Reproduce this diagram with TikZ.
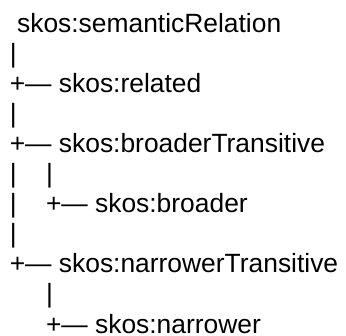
\documentclass[tikz,border=0pt]{standalone}
\usepackage{fontspec}
\setmainfont{Liberation Sans}
\begin{document}
\begin{tikzpicture}[x=1bp,y=1bp,
  t/.style={anchor=base west, inner sep=0pt, outer sep=0pt, text=black,
            font=\fontsize{26.4bp}{30bp}\selectfont}]
\useasboundingbox (0,0) rectangle (346,336);
% line 1
\node[t] (root) at (17.1,304) {skos:semanticRelation};
% line 2
\node[t] (v2) at (9.8,273.9) {|};
% line 3
\node[t] (related) at (9.8,243.8) {+— skos:related};
% line 4
\node[t] (v4) at (9.8,213.7) {|};
% line 5
\node[t] (broaderT) at (9.8,183.6) {+— skos:broaderTransitive};
% line 6
\node[t] (v6a) at (9.8,153.5) {|};
\node[t] (v6b) at (46,153.5) {|};
% line 7
\node[t] (v7) at (9.8,123.4) {|};
\node[t] (broader) at (46,123.4) {+— skos:broader};
% line 8
\node[t] (v8) at (9.8,93.3) {|};
% line 9
\node[t] (narrowerT) at (9.8,63.2) {+— skos:narrowerTransitive};
% line 10
\node[t] (v10) at (46,33.1) {|};
% line 11
\node[t] (narrower) at (46,3) {+— skos:narrower};
\end{tikzpicture}
\end{document}
